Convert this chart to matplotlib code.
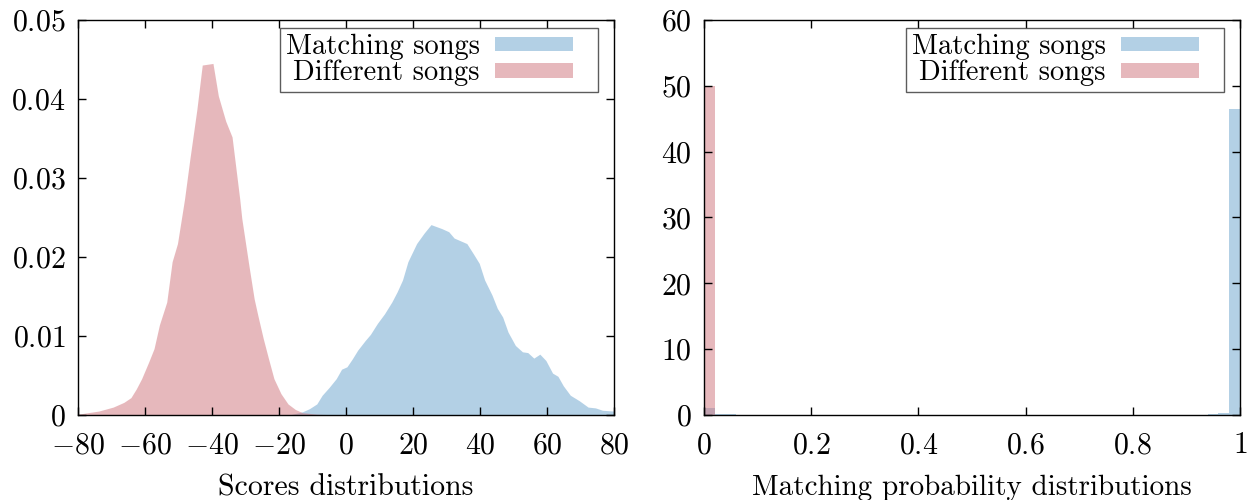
import numpy as np
import matplotlib
matplotlib.use("Agg")
import matplotlib.pyplot as plt
from matplotlib.patches import Patch, Rectangle
from matplotlib.legend_handler import HandlerPatch

plt.rcParams["font.family"] = ["cmr10", "DejaVu Serif"]
plt.rcParams["mathtext.fontset"] = "cm"
plt.rcParams["axes.formatter.use_mathtext"] = True

# scores distribution (left)
diff_x = [-80, -73.8, -69.5, -66.3, -64.2, -62.6, -61.0, -58.9, -57.3, -55.7, -53.5,
          -51.9, -50.3, -48.2, -46.6, -44.5, -42.9, -39.7, -38.1, -35.9, -34.0,
          -31.7, -31.1, -29.0, -27.4, -26.3, -24.7, -23.1, -21.5, -19.4, -17.3,
          -15.1, -13.0, -8.7, -5.0, 0.0]
diff_y = [0.0001, 0.0005, 0.0010, 0.0016, 0.0022, 0.0033, 0.0046, 0.0067, 0.0084,
          0.0114, 0.0143, 0.0194, 0.0217, 0.0273, 0.0324, 0.0387, 0.0443, 0.0445,
          0.0404, 0.0372, 0.0352, 0.0273, 0.0249, 0.0190, 0.0147, 0.0126, 0.0097,
          0.0071, 0.0046, 0.0027, 0.0014, 0.0007, 0.0003, 0.0001, 0.00005, 0.0]

match_x = [-17.0, -13.0, -10.9, -8.7, -7.1, -5.0, -2.9, -1.3, 0.3, 1.9, 3.5, 5.7, 7.3,
           9.4, 11.5, 13.7, 15.3, 16.9, 18.5, 21.1, 23.3, 25.4, 28.6, 30.7, 32.3,
           36.1, 38.2, 39.8, 41.4, 43.6, 45.2, 46.8, 48.4, 50.6, 52.7, 54.3, 56.1,
           57.9, 59.7, 61.7, 63.3, 64.9, 67.0, 69.7, 72.3, 74.5, 76.6, 80.0]
match_y = [0.0, 0.0004, 0.0008, 0.0014, 0.0025, 0.0035, 0.0046, 0.0058, 0.0061,
           0.0071, 0.0082, 0.0094, 0.0102, 0.0116, 0.0128, 0.0143, 0.0156, 0.0171,
           0.0194, 0.0217, 0.0230, 0.0241, 0.0236, 0.0232, 0.0224, 0.0217, 0.0203,
           0.0192, 0.0171, 0.0152, 0.0135, 0.0124, 0.0105, 0.0088, 0.0080, 0.0079,
           0.0072, 0.0077, 0.0069, 0.0053, 0.0049, 0.0037, 0.0025, 0.0018, 0.0010,
           0.0009, 0.0006, 0.0005]

# matching probability histogram (right), 50 bins on [0, 1]
n_bins = 50
diff_bins = [0]
diff_heights = [49.9]
match_bins = [0, 1, 2, 47, 48, 49]
match_heights = [1.1, 0.15, 0.1, 0.1, 0.3, 46.5]

score_ticks = [-80, -60, -40, -20, 0, 20, 40, 60, 80]
score_yticks = [0, 0.01, 0.02, 0.03, 0.04, 0.05]
score_ylabels = ["0", "0.01", "0.02", "0.03", "0.04", "0.05"]
prob_ticks = [0, 0.2, 0.4, 0.6, 0.8, 1]
prob_labels = ["0", "0.2", "0.4", "0.6", "0.8", "1"]
prob_yticks = [0, 10, 20, 30, 40, 50, 60]

blue = "#69a2cd"
red = "#cf737b"
alpha = 0.5
fs = 21.5
fs_leg = 20.5


def swatch(legend, orig_handle, xdescent, ydescent, width, height, fontsize):
    # narrower box than the handle slot, leaves room before the frame
    h = 0.5 * fontsize
    return Rectangle((-xdescent, -ydescent + (height - h) / 2), width * 0.8, h)


fig = plt.figure(figsize=(12.52, 5.0), dpi=100)
ax1 = fig.add_axes([0.0623, 0.17, 0.428, 0.79])
ax2 = fig.add_axes([0.5623, 0.17, 0.428, 0.79])

ax1.fill_between(match_x, match_y, color=blue, alpha=alpha, lw=0)
ax1.fill_between(diff_x, diff_y, color=red, alpha=alpha, lw=0)
ax1.set_xlim(-80, 80)
ax1.set_ylim(0, 0.05)
ax1.set_xticks(score_ticks)
ax1.set_xticklabels([f"${t}$" for t in score_ticks])
ax1.set_yticks(score_yticks)
ax1.set_yticklabels([f"${t}$" for t in score_ylabels])
ax1.set_xlabel("Scores distributions", fontsize=fs, labelpad=11)

edges = np.linspace(0, 1, n_bins + 1)
w = edges[1] - edges[0]
ax2.bar(edges[match_bins], match_heights, width=w, align="edge", color=blue, alpha=alpha, lw=0)
ax2.bar(edges[diff_bins], diff_heights, width=w, align="edge", color=red, alpha=alpha, lw=0)
ax2.set_xlim(0, 1)
ax2.set_ylim(0, 60)
ax2.set_xticks(prob_ticks)
ax2.set_xticklabels([f"${t}$" for t in prob_labels])
ax2.set_yticks(prob_yticks)
ax2.set_yticklabels([f"${t}$" for t in prob_yticks])
ax2.set_xlabel("Matching probability distributions", fontsize=fs - 0.5, labelpad=11)

handles = [Patch(color=blue, alpha=alpha, lw=0), Patch(color=red, alpha=alpha, lw=0)]
for ax in (ax1, ax2):
    ax.tick_params(direction="in", length=6, width=1, top=True, right=True,
                   labelsize=fs)
    ax.tick_params(axis="x", pad=12)
    ax.tick_params(axis="y", pad=9)
    for s in ax.spines.values():
        s.set_linewidth(1.0)
    leg = ax.legend(handles, ["Matching songs", "Different songs"], loc="upper right",
                    bbox_to_anchor=(0.97, 0.98), borderaxespad=0, fontsize=fs_leg,
                    markerfirst=False, fancybox=False, handlelength=3.4,
                    handleheight=0.6, labelspacing=0.0, borderpad=0.2,
                    handletextpad=0.55,
                    handler_map={Patch: HandlerPatch(patch_func=swatch)})
    leg.get_frame().set_edgecolor("#333333")
    leg.get_frame().set_linewidth(1.0)
    leg._legend_box.align = "right"

fig.savefig("out.png", dpi=100)
